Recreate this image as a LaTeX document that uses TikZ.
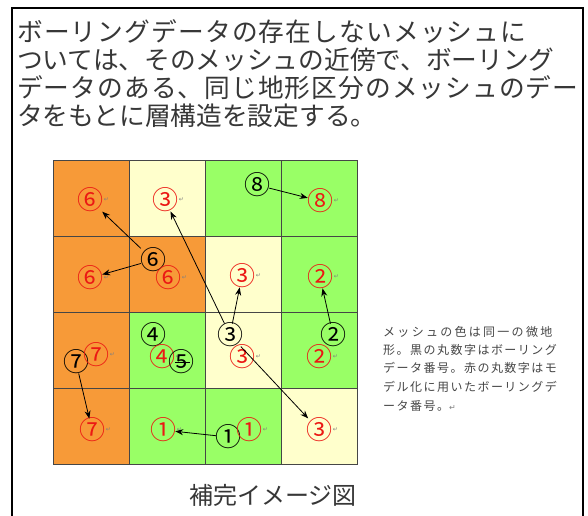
\documentclass[tikz,border=0pt]{standalone}
\usepackage{fontspec}
\usetikzlibrary{arrows.meta}
\newfontfamily\jp{Noto Sans CJK JP}
\newfontfamily\jpwide[LetterSpace=4.5]{Noto Sans CJK JP}
\newfontfamily\jpwideb[LetterSpace=4.2]{Noto Sans CJK JP}
\newfontfamily\jpls[LetterSpace=12.3]{Noto Sans CJK JP}
\newfontfamily\jplsw[LetterSpace=19]{Noto Sans CJK JP}
\newfontfamily\dejav{DejaVu Sans}
\definecolor{cOrange}{RGB}{247,154,56}
\definecolor{cYellow}{RGB}{255,255,204}
\definecolor{cGreen}{RGB}{153,255,102}
\definecolor{cRed}{RGB}{235,25,20}
\definecolor{cGridline}{RGB}{70,70,70}
\definecolor{cText}{RGB}{55,55,55}
\definecolor{cLegend}{RGB}{70,70,70}
\begin{document}
\begin{tikzpicture}[x=1pt,y=-1pt,
  cell/.style={draw=cGridline,line width=0.8pt},
  rednum/.style={text=cRed,font=\jp\fontsize{26}{26}\selectfont,inner sep=0pt,
    label={[inner sep=0.5pt,text=gray,font=\dejav\fontsize{6}{6}\selectfont]east:↵}},
  blknum/.style={text=black,font=\jp\fontsize{26}{26}\selectfont,inner sep=0pt},
  arr/.style={-{Stealth[length=8pt,width=6pt]},line width=0.8pt,shorten <=-1pt,shorten >=-1pt},
  title/.style={anchor=west,inner sep=0pt,text=cText,font=\jp\fontsize{25.7}{25.7}\selectfont},
  legend/.style={anchor=west,inner sep=0pt,text=cLegend,font=\jpls\fontsize{12}{12}\selectfont}
]
\useasboundingbox (0,0) rectangle (588,515);
\fill[white] (0,0) rectangle (588,515);
\draw[line width=2pt] (12,8) rectangle (583,560);

\node[title,font=\jpwide\fontsize{25.7}{25.7}\selectfont] (t1) at (17,32) {ボーリングデータの存在しないメッシュに};
\node[title] (t2) at (17,60) {ついては、そのメッシュの近傍で、ボーリング};
\node[title,font=\jpwideb\fontsize{25.7}{25.7}\selectfont] (t3) at (17,88) {データのある、同じ地形区分のメッシュのデー};
\node[title] (t4) at (17,116) {タをもとに層構造を設定する。};

% grid cells
\foreach \c/\r/\col in {0/0/cOrange,1/0/cYellow,2/0/cGreen,3/0/cGreen,
                         0/1/cOrange,1/1/cOrange,2/1/cYellow,3/1/cGreen,
                         0/2/cOrange,1/2/cGreen,2/2/cYellow,3/2/cGreen,
                         0/3/cOrange,1/3/cGreen,2/3/cGreen,3/3/cYellow}
  \filldraw[cell,fill=\col] ({53+76*\c},{160+76*\r}) rectangle ++(76,76);

% row 1
\node[rednum] (rd6a) at (90,200) {⑥};
\node[rednum] (rd3a) at (165,200) {③};
\node[blknum] (bk8) at (257,185) {⑧};
\node[rednum] (rd8) at (320,201) {⑧};
% row 2
\node[blknum] (bk6) at (153,260) {⑥};
\node[rednum] (rd6b) at (90,278) {⑥};
\node[rednum] (rd6c) at (168,278) {⑥};
\node[rednum] (rd3b) at (242,276) {③};
\node[rednum] (rd2a) at (320,277) {②};
% row 3
\node[blknum] (bk7) at (76,362) {⑦};
\node[rednum] (rd7a) at (96,355) {⑦};
\node[blknum] (bk4) at (153,335) {④};
\node[rednum] (rd4) at (162,357) {④};
\node[blknum] (bk5) at (181,362) {⑤};
\node[blknum] (bk3) at (230,335) {③};
\node[rednum] (rd3c) at (242,357) {③};
\node[blknum] (bk2) at (333,335) {②};
\node[rednum] (rd2b) at (319,357) {②};
% row 4
\node[rednum] (rd7b) at (92,430) {⑦};
\node[rednum] (rd1a) at (163,430) {①};
\node[blknum] (bk1) at (228,437) {①};
\node[rednum] (rd1b) at (249,430) {①};
\node[rednum] (rd3d) at (319,430) {③};

% connectors
\draw[arr] (bk8) -- (rd8);
\draw[arr] (bk6) -- (rd6a);
\draw[arr] (bk6) -- (rd6b);
\draw[arr] (bk3) -- (rd3a);
\draw[arr] (bk3) -- (rd3b);
\draw[arr] (bk3) -- (rd3d);
\draw[arr] (bk2) -- (rd2a);
\draw[arr] (bk7) -- (rd7b);
\draw[arr] (bk1) -- (rd1a);
\draw[line width=0.8pt] ([xshift=-6pt]bk5.center) -- ([xshift=9pt]bk5.center);

% legend
\node[legend,font=\jplsw\fontsize{12}{12}\selectfont] (l1) at (383,332) {メッシュの色は同一の微地};
\node[legend] (l2) at (383,350) {形。黒の丸数字はボーリング};
\node[legend] (l3) at (383,368) {データ番号。赤の丸数字はモ};
\node[legend] (l4) at (383,387) {デル化に用いたボーリングデ};
\node[legend] (l5) at (383,406) {ータ番号。{\dejav\fontsize{8}{8}\selectfont\color{gray}↵}};

\node[inner sep=0pt,text=cText,font=\jp\fontsize{24}{24}\selectfont] (cap) at (273,495) {補完イメージ図};
\end{tikzpicture}
\end{document}
